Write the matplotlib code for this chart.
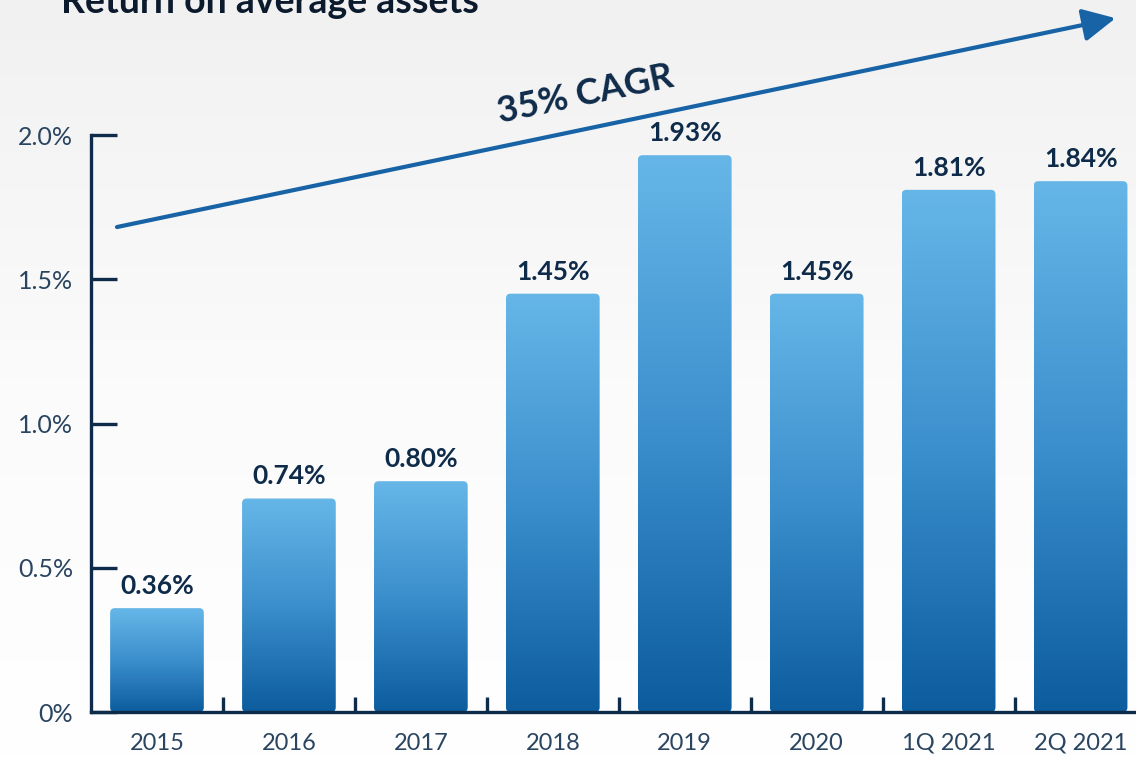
import numpy as np
import matplotlib.pyplot as plt
from matplotlib.patches import FancyBboxPatch
from matplotlib.colors import LinearSegmentedColormap

# данные
categories = ['2015', '2016', '2017', '2018', '2019', '2020', '1Q 2021', '2Q 2021']
roaa = [0.36, 0.74, 0.80, 1.45, 1.93, 1.45, 1.81, 1.84]
y_ticks = [0, 0.5, 1.0, 1.5, 2.0]
y_tick_labels = ['0%', '0.5%', '1.0%', '1.5%', '2.0%']

navy = '#0f2b4a'
label_color = '#2a4560'
plt.rcParams['font.family'] = ['Lato', 'DejaVu Sans']

fig = plt.figure(figsize=(11.36, 7.58), dpi=100)

# фон с градиентом
bg = fig.add_axes([0, 0, 1, 1], zorder=-10)
bg_cmap = LinearSegmentedColormap.from_list('bg', ['#ffffff', '#fbfbfb', '#f1f1f1'])
bg.imshow(np.linspace(0, 1, 256).reshape(-1, 1), aspect='auto', cmap=bg_cmap,
          origin='lower', extent=[0, 1, 0, 1])
bg.axis('off')

ax = fig.add_axes([91 / 1136, 46 / 758, 1 - 91 / 1136, 1 - 46 / 758])
ax.patch.set_alpha(0)
x = np.arange(len(categories))

bar_cmap = LinearSegmentedColormap.from_list('bar', ['#0c5c9e', '#3b8fcc', '#66b6e8'])
bars = ax.bar(x, roaa, width=0.71, color='none', edgecolor='none')
for b, v in zip(bars, roaa):
    x0, w, h = b.get_x(), b.get_width(), b.get_height()
    shape = FancyBboxPatch((x0, 0), w, h, boxstyle='round,pad=0,rounding_size=0.035',
                           mutation_aspect=0.46, facecolor='none', edgecolor='none')
    ax.add_patch(shape)
    im = ax.imshow(np.linspace(0, 1, 256).reshape(-1, 1), aspect='auto', cmap=bar_cmap,
                   origin='lower', extent=[x0, x0 + w, 0, h], zorder=2)
    im.set_clip_path(shape)
    ax.text(b.get_x() + w / 2, h + 0.035, f'{v:.2f}%', ha='center', va='bottom',
            fontsize=19, fontweight='bold', color=navy, zorder=3)

ax.set_xlim(-0.5, 7.42)
ax.set_ylim(0, 2.468)

# оси
for s in ['top', 'right']:
    ax.spines[s].set_visible(False)
ax.spines['left'].set_bounds(0, 2.0)
for s in ['left', 'bottom']:
    ax.spines[s].set_color(navy)
    ax.spines[s].set_linewidth(2.4)
    ax.spines[s].set_zorder(4)

ax.set_yticks(y_ticks)
ax.set_yticklabels(y_tick_labels)
ax.tick_params(axis='y', direction='in', length=19, width=2.4, color=navy,
               labelsize=18, labelcolor=label_color, pad=13)
ax.set_xticks(x)
ax.set_xticklabels(categories)
ax.tick_params(axis='x', which='major', length=0, labelsize=17, labelcolor=label_color, pad=15)
ax.set_xticks(x[:-1] + 0.5, minor=True)
ax.tick_params(axis='x', which='minor', direction='in', length=11, width=2.4, color=navy)

# стрелка CAGR
ax.annotate('', xy=(7.265, 2.405), xytext=(-0.303, 1.681),
            arrowprops=dict(arrowstyle='-|>,head_length=2.0,head_width=1.0',
                            color='#1763a6', lw=3.0, shrinkA=0, shrinkB=0), zorder=5)
ax.text(3.25, 2.14, '35% CAGR', rotation=11.8, rotation_mode='anchor', ha='center',
        va='center', fontsize=26, fontweight='bold', color=navy)

fig.text(270 / 1136, 1 - 13 / 758, 'Return on average assets', ha='center', va='baseline',
         fontsize=27, fontweight='bold', color='#0b1a2c')

plt.savefig('out.png', dpi=100)
